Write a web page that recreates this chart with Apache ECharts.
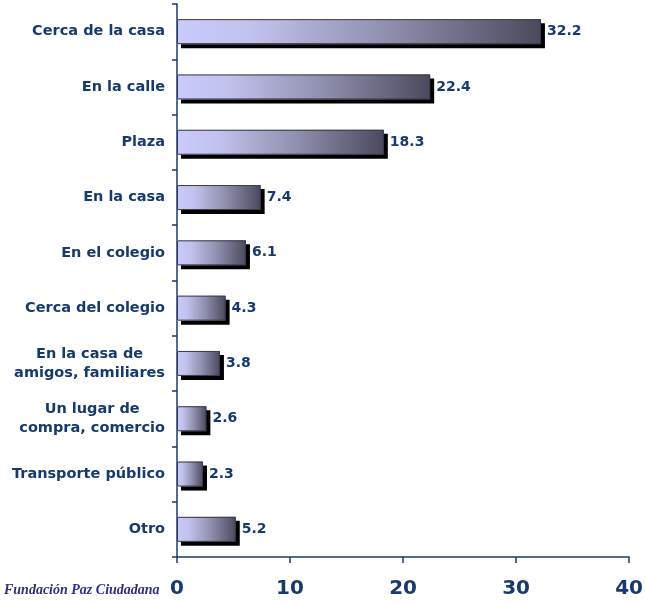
<!DOCTYPE html>
<html>
<head>
<meta charset="utf-8">
<script src="https://cdn.jsdelivr.net/npm/echarts@6/dist/echarts.min.js"></script>
<style>
  html, body { margin: 0; padding: 0; background: #fff; }
  #chart { width: 646px; height: 604px; }
</style>
</head>
<body>
<div id="chart"></div>
<script>
// categories, top to bottom
var lugares = [
  'Cerca de la casa',
  'En la calle',
  'Plaza',
  'En la casa',
  'En el colegio',
  'Cerca del colegio',
  'En la casa de\namigos, familiares',
  'Un lugar de\ncompra, comercio',
  'Transporte público',
  'Otro'
]
var porcentajes = [32.2, 22.4, 18.3, 7.4, 6.1, 4.3, 3.8, 2.6, 2.3, 5.2]
var xTicks = [0, 10, 20, 30, 40]

var navy = '#173a6e'
var font = 'DejaVu Sans'

var chart = echarts.init(document.getElementById('chart'))

var option = {
  animation: false,
  grid: { left: 177, right: 16, top: 4, bottom: 47, containLabel: false },
  xAxis: {
    type: 'value',
    min: xTicks[0],
    max: xTicks[xTicks.length - 1],
    interval: 10,
    splitLine: { show: false },
    axisLine: { show: true, lineStyle: { color: navy, width: 1.5 } },
    axisTick: { show: true, length: 6, lineStyle: { color: navy, width: 1.5 } },
    axisLabel: {
      margin: 22,
      color: navy,
      fontFamily: font,
      fontWeight: 'bold',
      fontSize: 20
    }
  },
  yAxis: {
    type: 'category',
    data: lugares,
    inverse: true,
    axisLine: { show: true, lineStyle: { color: navy, width: 1.5 } },
    axisTick: { show: true, length: 5, lineStyle: { color: navy, width: 1.5 } },
    axisLabel: {
      margin: 12,
      color: navy,
      fontFamily: font,
      fontWeight: 'bold',
      fontSize: 14.5,
      lineHeight: 19,
      formatter: function (v) {
        return v.split('\n').map(function (l) { return '{c|' + l + '}' }).join('\n')
      },
      rich: {
        c: {
          align: 'center',
          color: navy,
          fontFamily: font,
          fontWeight: 'bold',
          fontSize: 14.5,
          lineHeight: 19
        }
      }
    }
  },
  series: [
    {
      // filled bars with hard drop shadow
      type: 'bar',
      data: porcentajes,
      barWidth: 25,
      itemStyle: {
        color: new echarts.graphic.LinearGradient(0, 0, 1, 0, [
          { offset: 0, color: '#cacafc' },
          { offset: 0.2, color: '#c2c2ee' },
          { offset: 0.6, color: '#8c8caa' },
          { offset: 1, color: '#4a4a5e' }
        ]),
        borderWidth: 0,
        shadowColor: '#000000',
        shadowBlur: 0,
        shadowOffsetX: 4,
        shadowOffsetY: 4
      },
      label: {
        show: true,
        position: 'right',
        distance: 6,
        color: navy,
        fontFamily: font,
        fontWeight: 'bold',
        fontSize: 14,
        formatter: function (p) { return p.value.toFixed(1) }
      }
    },
    {
      // thin outline on top
      type: 'bar',
      data: porcentajes,
      barWidth: 25,
      barGap: '-100%',
      silent: true,
      itemStyle: {
        color: 'rgba(0,0,0,0)',
        borderColor: '#3a3a48',
        borderWidth: 1
      }
    }
  ],
  graphic: [
    {
      type: 'text',
      left: 4,
      top: 583,
      style: {
        text: 'Fundación Paz Ciudadana',
        fill: '#2b2f86',
        font: 'italic bold 14px "Liberation Serif"'
      }
    }
  ]
}

chart.setOption(option)
</script>
</body>
</html>
